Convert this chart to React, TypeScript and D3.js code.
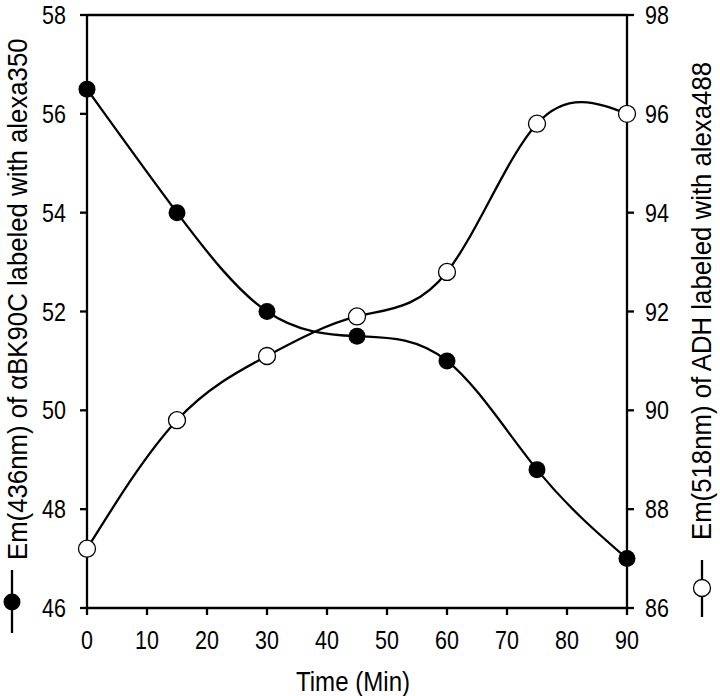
import React from "react";
import * as d3 from "d3";

const times = [0, 15, 30, 45, 60, 75, 90];
const alexa350 = [56.5, 54.0, 52.0, 51.5, 51.0, 48.8, 47.0];
const alexa488 = [87.2, 89.8, 91.1, 91.9, 92.8, 95.8, 96.0];

const xTicks = [0, 10, 20, 30, 40, 50, 60, 70, 80, 90];
const leftTicks = [46, 48, 50, 52, 54, 56, 58];
const rightTicks = [86, 88, 90, 92, 94, 96, 98];

const W = 720;
const H = 696;
const m = { left: 87, right: 627, top: 15, bottom: 608 };
const font = "'Liberation Sans', Arial, Helvetica, sans-serif";
// the original lettering is a narrow sans, so squeeze glyphs a little
const narrow = 0.86;

function Label({ x, y, anchor, size, rot = 0, sx = narrow, children }: any) {
  return (
    <text
      transform={`translate(${x},${y}) rotate(${rot}) scale(${sx},1)`}
      fontSize={size}
      textAnchor={anchor}
    >
      {children}
    </text>
  );
}

export default function App() {
  const x = d3.scaleLinear().domain([0, 90]).range([m.left, m.right]);
  const yL = d3.scaleLinear().domain([46, 58]).range([m.bottom, m.top]);
  const yR = d3.scaleLinear().domain([86, 98]).range([m.bottom, m.top]);

  const lineL = d3
    .line<number>()
    .x((_, i) => x(times[i]))
    .y((d) => yL(d))
    .curve(d3.curveNatural);
  const lineR = d3
    .line<number>()
    .x((_, i) => x(times[i]))
    .y((d) => yR(d))
    .curve(d3.curveNatural);

  const tk = 7;
  const r = 8.5;

  return (
    <svg
      width={W}
      height={H}
      style={{ position: "absolute", left: 0, top: 0, background: "#fff" }}
      fontFamily={font}
    >
      {/* frame */}
      <g stroke="#000" strokeWidth={2.3} fill="none">
        <line x1={m.left} x2={m.right} y1={m.top} y2={m.top} />
        <line x1={m.left} x2={m.right} y1={m.bottom} y2={m.bottom} />
        <line x1={m.left} x2={m.left} y1={m.top} y2={m.bottom} />
        <line x1={m.right} x2={m.right} y1={m.top} y2={m.bottom} />
        {xTicks.map((t) => (
          <line key={"xt" + t} x1={x(t)} x2={x(t)} y1={m.bottom} y2={m.bottom + tk} />
        ))}
        {leftTicks.map((t) => (
          <line key={"lt" + t} x1={m.left - tk} x2={m.left} y1={yL(t)} y2={yL(t)} />
        ))}
        {rightTicks.map((t) => (
          <line key={"rt" + t} x1={m.right} x2={m.right + tk} y1={yR(t)} y2={yR(t)} />
        ))}
      </g>

      {/* tick labels */}
      <g fill="#000">
        {xTicks.map((t) => (
          <Label key={"xl" + t} x={x(t)} y={649} anchor="middle" size={25}>
            {t}
          </Label>
        ))}
        {leftTicks.map((t) => (
          <Label key={"ll" + t} x={66} y={yL(t) + 9} anchor="end" size={25}>
            {t}
          </Label>
        ))}
        {rightTicks.map((t) => (
          <Label key={"rl" + t} x={645} y={yR(t) + 9} anchor="start" size={25}>
            {t}
          </Label>
        ))}
      </g>

      {/* curves */}
      <path d={lineL(alexa350) ?? ""} fill="none" stroke="#000" strokeWidth={2.3} />
      <path d={lineR(alexa488) ?? ""} fill="none" stroke="#000" strokeWidth={2.3} />

      {alexa350.map((v, i) => (
        <circle key={"f" + i} cx={x(times[i])} cy={yL(v)} r={r} fill="#000" />
      ))}
      {alexa488.map((v, i) => (
        <circle
          key={"o" + i}
          cx={x(times[i])}
          cy={yR(v)}
          r={r}
          fill="#fff"
          stroke="#000"
          strokeWidth={1.3}
        />
      ))}

      {/* x title */}
      <Label x={353} y={691} anchor="middle" size={28}>
        Time (Min)
      </Label>

      {/* left title with legend symbol */}
      <g>
        <line x1={12} x2={12} y1={570} y2={633} stroke="#000" strokeWidth={2.3} />
        <circle cx={12} cy={602} r={r} fill="#000" />
        <Label x={27} y={560} rot={-90} anchor="start" size={28} sx={0.92}>
          Em(436nm) of αBK90C labeled with alexa350
        </Label>
      </g>

      {/* right title with legend symbol */}
      <g>
        <line x1={702} x2={702} y1={560} y2={617} stroke="#000" strokeWidth={2.3} />
        <circle cx={702} cy={588} r={r} fill="#fff" stroke="#000" strokeWidth={1.3} />
        <Label x={711} y={540} rot={-90} anchor="start" size={28} sx={0.92}>
          Em(518nm) of ADH labeled with alexa488
        </Label>
      </g>
    </svg>
  );
}
